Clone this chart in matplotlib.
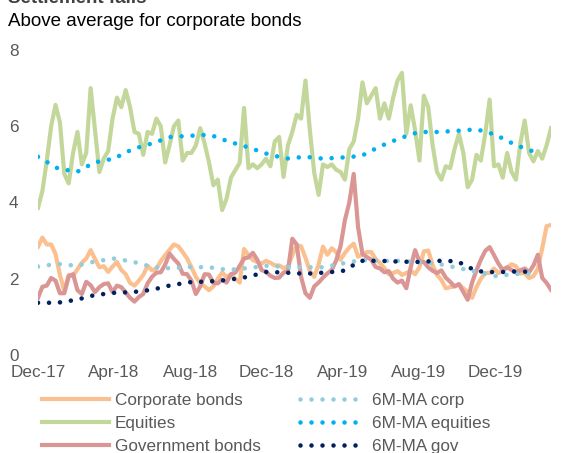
import numpy as np
import pandas as pd
import matplotlib
matplotlib.use("Agg")
import matplotlib.pyplot as plt
import matplotlib.dates as mdates

# settlement fails, weekly readings from Dec-17
start = "2017-12-01"

corp = [2.84, 3.08, 2.90, 2.90, 2.65, 2.10, 1.68, 2.10, 2.08, 2.25,
        2.42, 2.53, 2.75, 2.52, 2.30, 2.33, 2.18, 2.32, 2.44, 2.23,
        2.12, 1.89, 1.82, 1.95, 2.10, 2.34, 2.22, 2.27, 2.46, 2.62,
        2.76, 2.90, 2.85, 2.70, 2.53, 2.30, 2.05, 1.88, 1.80, 1.70,
        1.80, 2.00, 2.16, 2.05, 2.10, 2.00, 1.90, 2.78, 2.62, 2.49,
        2.44, 2.40, 2.47, 2.42, 2.35, 2.35, 2.28, 2.32, 2.62, 2.88,
        2.85, 2.55, 2.20, 2.05, 2.38, 2.84, 2.63, 2.80, 2.70, 2.50,
        2.68, 2.82, 2.92, 2.58, 2.63, 2.70, 2.70, 2.52, 2.41, 2.28,
        2.12, 2.15, 2.20, 2.10, 2.15, 2.21, 2.12, 2.30, 2.72, 2.74,
        2.36, 2.10, 1.97, 1.75, 1.78, 1.80, 1.85, 1.75, 1.65, 1.50,
        1.78, 2.00, 2.15, 2.15, 2.27, 2.15, 2.22, 2.29, 2.38, 2.33,
        2.14, 2.15, 2.02, 2.07, 2.26, 2.80, 3.38, 3.41]

equities = [3.86, 4.30, 5.10, 6.00, 6.56, 6.10, 4.75, 4.50, 5.30, 5.85,
            5.00, 5.30, 7.00, 5.90, 4.80, 5.15, 5.35, 6.20, 6.75, 6.50,
            6.95, 6.50, 5.85, 5.80, 5.25, 5.85, 5.80, 6.20, 6.00, 5.05,
            5.50, 6.00, 6.15, 5.10, 5.30, 5.30, 5.50, 5.95, 5.55, 5.05,
            4.45, 4.60, 3.80, 4.10, 4.65, 4.85, 5.04, 6.48, 4.90, 5.00,
            4.90, 5.00, 5.15, 4.95, 5.60, 5.72, 4.67, 5.50, 5.85, 6.30,
            6.20, 7.20, 5.90, 4.78, 4.20, 5.00, 4.93, 5.00, 4.86, 4.80,
            4.60, 5.40, 5.60, 6.20, 7.15, 6.60, 6.80, 7.00, 6.20, 6.60,
            6.20, 6.75, 7.20, 7.40, 5.80, 6.55, 5.90, 5.10, 6.80, 6.50,
            5.50, 4.80, 4.60, 4.95, 4.90, 5.40, 5.80, 5.30, 4.40, 4.60,
            5.25, 5.10, 5.80, 6.70, 4.95, 5.00, 4.65, 5.30, 4.80, 4.60,
            5.55, 6.15, 5.30, 5.08, 5.35, 5.15, 5.50, 5.95]

gov = [1.50, 1.79, 1.82, 2.02, 1.95, 1.62, 1.62, 2.06, 2.12, 1.70,
       1.60, 1.92, 1.83, 1.65, 1.78, 1.86, 1.88, 1.65, 1.82, 1.78,
       1.64, 1.50, 1.40, 1.52, 1.60, 1.88, 2.05, 2.16, 2.17, 2.37,
       2.66, 2.52, 2.40, 2.13, 2.12, 1.95, 1.60, 1.80, 2.12, 2.11,
       1.89, 1.88, 1.98, 1.90, 2.12, 2.16, 2.34, 2.53, 2.56, 2.68,
       2.50, 2.23, 2.18, 2.08, 2.02, 2.03, 2.16, 2.20, 3.05, 2.90,
       2.05, 1.62, 1.50, 1.80, 1.90, 2.03, 2.14, 2.23, 2.48, 2.85,
       3.54, 4.00, 4.75, 3.35, 2.65, 2.57, 2.50, 2.31, 2.27, 2.17,
       2.20, 2.00, 1.90, 1.95, 1.75, 2.30, 2.75, 2.45, 2.44, 2.30,
       2.21, 2.15, 2.22, 2.03, 1.92, 1.80, 1.86, 1.65, 1.45, 1.90,
       2.22, 2.50, 2.73, 2.83, 2.62, 2.40, 2.23, 2.30, 2.23, 2.17,
       2.22, 2.27, 2.17, 2.35, 2.63, 2.02, 1.89, 1.71]

# six-month moving averages, monthly
ma_corp = [2.32, 2.39, 2.34, 2.45, 2.53, 2.45, 2.31, 2.27, 2.31, 2.30,
           2.23, 2.28, 2.34, 2.31, 2.30, 2.30, 2.40, 2.49, 2.47, 2.47,
           2.43, 2.39, 2.29, 2.18, 2.07, 2.12, 2.15]
ma_equities = [5.20, 4.90, 4.80, 5.05, 5.15, 5.40, 5.55, 5.72, 5.75, 5.78,
               5.60, 5.45, 5.28, 5.15, 5.20, 5.15, 5.18, 5.22, 5.48, 5.68,
               5.85, 5.85, 5.88, 5.92, 5.78, 5.52, 5.33]
ma_gov = [1.37, 1.37, 1.45, 1.57, 1.63, 1.65, 1.71, 1.83, 1.91, 1.93,
          1.97, 2.05, 2.18, 2.16, 2.13, 2.16, 2.20, 2.47, 2.47, 2.45,
          2.44, 2.47, 2.46, 2.20, 2.17, 2.19, 2.18]

tick_dates = ["2017-12-01", "2018-04-01", "2018-08-01", "2018-12-01",
              "2019-04-01", "2019-08-01", "2019-12-01"]
tick_labels = ["Dec-17", "Apr-18", "Aug-18", "Dec-18", "Apr-19", "Aug-19", "Dec-19"]

weeks = pd.date_range(start, periods=len(corp), freq="7D")
months = pd.date_range(start, periods=len(ma_corp), freq="MS")

plt.rcParams["font.family"] = ["Liberation Sans", "DejaVu Sans"]

W, H = 563, 453
fig = plt.figure(figsize=(W / 100, H / 100), dpi=100)
ax = fig.add_axes([38 / W, (H - 355) / H, (551 - 38) / W, 305 / H])

lw = 3.0
ax.plot(weeks, corp, color="#FAC090", lw=lw, label="Corporate bonds")
ax.plot(weeks, equities, color="#C4D79B", lw=lw, label="Equities")
ax.plot(weeks, gov, color="#D99694", lw=lw, label="Government bonds")

dot = (0, (0.001, 2.4))
ax.plot(months, ma_corp, color="#92CDDC", lw=3.3, ls=dot,
        dash_capstyle="round", label="6M-MA corp")
ax.plot(months, ma_equities, color="#00B0F0", lw=3.3, ls=dot,
        dash_capstyle="round", label="6M-MA equities")
ax.plot(months, ma_gov, color="#002060", lw=3.3, ls=dot,
        dash_capstyle="round", label="6M-MA gov")

ax.set_xlim(weeks[0], weeks[-1])
ax.set_ylim(0, 8)
ax.set_yticks([0, 2, 4, 6, 8])
ax.set_xticks(pd.to_datetime(tick_dates))
ax.set_xticklabels(tick_labels)
ax.tick_params(length=0, labelsize=12.3, colors="#595959")
ax.tick_params(axis="y", pad=14)
ax.tick_params(axis="x", pad=7)
for s in ax.spines.values():
    s.set_visible(False)

# heading sits mostly above the top edge, as in the source
fig.text(8 / W, 1 - 3 / H, "Settlement fails", fontsize=13.5, fontweight="bold",
         color="#404040", va="baseline", ha="left")
fig.text(8 / W, 1 - 21 / H, "Above average for corporate bonds", fontsize=13.5,
         color="black", va="center", ha="left")

leg = fig.legend(loc="upper left", bbox_to_anchor=(42 / W, 1 - 393 / H), ncol=2,
                 frameon=False, fontsize=12.3, handlelength=3.9, handletextpad=0.35,
                 columnspacing=2.3, labelspacing=0.48, borderpad=0, borderaxespad=0)
for t in leg.get_texts():
    t.set_color("#595959")

fig.savefig("out.png", dpi=100)
